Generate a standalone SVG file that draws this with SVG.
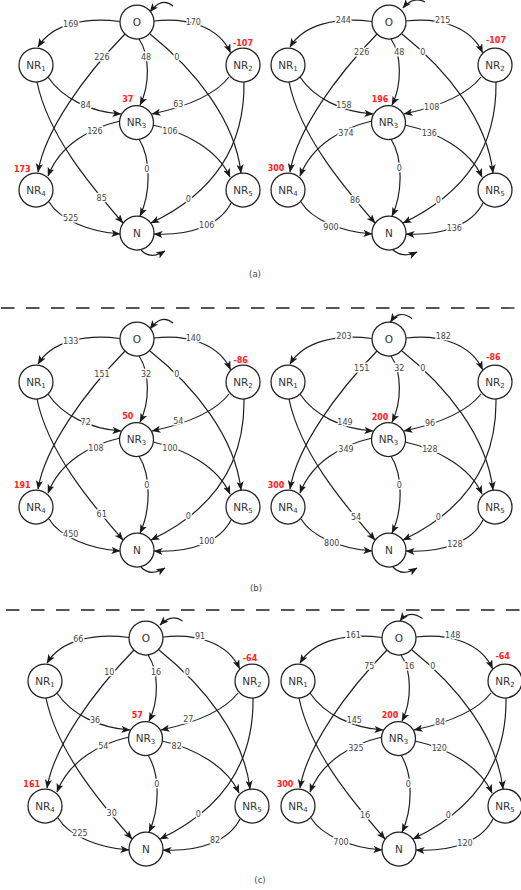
<svg xmlns="http://www.w3.org/2000/svg" width="521" height="890" viewBox="0 0 521 890">
<defs>
<style>
.bg{fill:#fff}
.c path{fill:none;stroke:#1f1f1f;stroke-width:1.2;marker-end:url(#arr)}
.nd circle{fill:#fff;stroke:#1f1f1f;stroke-width:1.25}
.nt{font-family:"DejaVu Sans",sans-serif;font-size:10.5px;fill:#333;text-anchor:middle}
.sb{font-size:7px}
.el{font-family:"DejaVu Sans",sans-serif;font-size:8px;fill:#444;text-anchor:middle;stroke:#fff;stroke-width:3;stroke-linejoin:round;paint-order:stroke}
.rl{font-family:"DejaVu Sans",sans-serif;font-size:8px;font-weight:bold;fill:#f22;text-anchor:middle}
.cap{font-family:"DejaVu Sans",sans-serif;font-size:8.5px;fill:#444;text-anchor:middle}
.dash{stroke:#555;stroke-width:1.8;stroke-dasharray:13.5 11.5}
</style>
<marker id="arr" viewBox="0 0 10 8" refX="9.5" refY="4" markerWidth="9" markerHeight="7.2" markerUnits="userSpaceOnUse" orient="auto"><path d="M0,0 L10,4 L0,8 L2.5,4 z" fill="#1a1a1a"/></marker>
</defs>
<rect class="bg" x="0" y="0" width="521" height="890"/>

<!-- ===== (a) left ===== -->
<g id="a-left" transform="translate(0,0)">
<g id="a-left-connectors" class="c">
<path d="M120,21.5 C85,17 52,24 38,47"/>
<path d="M154,21 C188,17 219,27 230.5,52.5"/>
<path d="M125,34 C85,75 45,130 38,172"/>
<path d="M139,39 C150,55 150,85 140,105"/>
<path d="M150,34 C195,70 235,120 241,173"/>
<path d="M48,77 C62,98 90,112 121,114"/>
<path d="M229,77 C215,95 185,107 152,114"/>
<path d="M37,82 C48,135 90,185 123,223"/>
<path d="M244,82 C245,150 210,195 151,223"/>
<path d="M120,121 C90,128 60,145 48,176"/>
<path d="M153,125 C185,132 218,150 230,177"/>
<path d="M139,139 C152,160 150,195 140,216"/>
<path d="M49,202 C60,220 90,232 120,234"/>
<path d="M231,203 C220,225 190,236 154,234"/>
<path d="M173,6 Q162,-3.6 150,12"/>
<path d="M141,250 Q150,260 165,251"/>
<text class="el" x="70.7" y="26.9">169</text>
<text class="el" x="193.3" y="24.6">170</text>
<text class="el" x="102" y="60.2">226</text>
<text class="el" x="146" y="60.2">48</text>
<text class="el" x="176.7" y="60.2">0</text>
<text class="el" x="85.7" y="107.9">84</text>
<text class="el" x="178.3" y="106.9">63</text>
<text class="el" x="95" y="133.6">126</text>
<text class="el" x="170" y="133.6">106</text>
<text class="el" x="146.7" y="171.9">0</text>
<text class="el" x="101.7" y="201.2">85</text>
<text class="el" x="188.3" y="202.2">0</text>
<text class="el" x="70.7" y="221.2">525</text>
<text class="el" x="206.7" y="227.9">106</text>
</g>
<g id="a-left-O" class="nd"><circle cx="137" cy="22" r="17"/><text class="nt" x="137" y="25.8">O</text></g>
<g id="a-left-NR1" class="nd"><circle cx="36" cy="65" r="17"/><text class="nt" x="36" y="68.8">NR<tspan class="sb" dy="1.8">1</tspan></text></g>
<g id="a-left-NR2" class="nd"><circle cx="243" cy="65" r="17"/><text class="nt" x="243" y="68.8">NR<tspan class="sb" dy="1.8">2</tspan></text><text class="rl" x="243" y="45.6">-107</text></g>
<g id="a-left-NR3" class="nd"><circle cx="136.5" cy="122.5" r="17"/><text class="nt" x="136.5" y="126.3">NR<tspan class="sb" dy="1.8">3</tspan></text><text class="rl" x="127.7" y="102.2">37</text></g>
<g id="a-left-NR4" class="nd"><circle cx="36" cy="190" r="17"/><text class="nt" x="36" y="193.8">NR<tspan class="sb" dy="1.8">4</tspan></text><text class="rl" x="22.3" y="171.9">173</text></g>
<g id="a-left-NR5" class="nd"><circle cx="243" cy="190" r="17"/><text class="nt" x="243" y="193.8">NR<tspan class="sb" dy="1.8">5</tspan></text></g>
<g id="a-left-N" class="nd"><circle cx="137" cy="233" r="17"/><text class="nt" x="137" y="236.8">N</text></g>
</g>

<!-- ===== (a) right ===== -->
<g id="a-right" transform="translate(252,0)">
<g id="a-right-connectors" class="c">
<path d="M120,21.5 C85,17 52,24 38,47"/>
<path d="M154,21 C188,17 219,27 230.5,52.5"/>
<path d="M125,34 C85,75 45,130 38,172"/>
<path d="M139,39 C150,55 150,85 140,105"/>
<path d="M150,34 C195,70 235,120 241,173"/>
<path d="M48,77 C62,98 90,112 121,114"/>
<path d="M229,77 C215,95 185,107 152,114"/>
<path d="M37,82 C48,135 90,185 123,223"/>
<path d="M244,82 C245,150 210,195 151,223"/>
<path d="M120,121 C90,128 60,145 48,176"/>
<path d="M153,125 C185,132 218,150 230,177"/>
<path d="M139,139 C152,160 150,195 140,216"/>
<path d="M49,202 C60,220 90,232 120,234"/>
<path d="M231,203 C220,225 190,236 154,234"/>
<path d="M173,2 Q161,-4 151,8"/>
<path d="M140,249 Q150,259 165,252"/>
<text class="el" x="91.3" y="22.9">244</text>
<text class="el" x="190.7" y="22.9">215</text>
<text class="el" x="109.7" y="54.6">226</text>
<text class="el" x="147.3" y="54.6">48</text>
<text class="el" x="170.7" y="54.6">0</text>
<text class="el" x="92" y="107.9">158</text>
<text class="el" x="179.7" y="109.6">108</text>
<text class="el" x="94" y="136.2">374</text>
<text class="el" x="177.3" y="136.2">136</text>
<text class="el" x="147.3" y="171.2">0</text>
<text class="el" x="103" y="202.9">86</text>
<text class="el" x="186.3" y="202.9">0</text>
<text class="el" x="79" y="229.6">900</text>
<text class="el" x="202.3" y="231.2">136</text>
</g>
<g id="a-right-O" class="nd"><circle cx="137" cy="22" r="17"/><text class="nt" x="137" y="25.8">O</text></g>
<g id="a-right-NR1" class="nd"><circle cx="36" cy="65" r="17"/><text class="nt" x="36" y="68.8">NR<tspan class="sb" dy="1.8">1</tspan></text></g>
<g id="a-right-NR2" class="nd"><circle cx="243" cy="65" r="17"/><text class="nt" x="243" y="68.8">NR<tspan class="sb" dy="1.8">2</tspan></text><text class="rl" x="244" y="42.9">-107</text></g>
<g id="a-right-NR3" class="nd"><circle cx="136.5" cy="122.5" r="17"/><text class="nt" x="136.5" y="126.3">NR<tspan class="sb" dy="1.8">3</tspan></text><text class="rl" x="128" y="102.2">196</text></g>
<g id="a-right-NR4" class="nd"><circle cx="36" cy="190" r="17"/><text class="nt" x="36" y="193.8">NR<tspan class="sb" dy="1.8">4</tspan></text><text class="rl" x="24" y="171.2">300</text></g>
<g id="a-right-NR5" class="nd"><circle cx="243" cy="190" r="17"/><text class="nt" x="243" y="193.8">NR<tspan class="sb" dy="1.8">5</tspan></text></g>
<g id="a-right-N" class="nd"><circle cx="137" cy="233" r="17"/><text class="nt" x="137" y="236.8">N</text></g>
</g>

<text id="cap-a" class="cap" x="255" y="277">(a)</text>
<line id="sep-1" class="dash" x1="1" y1="308" x2="521" y2="308"/>

<!-- ===== (b) left ===== -->
<g id="b-left" transform="translate(0,317)">
<g id="b-left-connectors" class="c">
<path d="M120,21.5 C85,17 52,24 38,47"/>
<path d="M154,21 C188,17 219,27 230.5,52.5"/>
<path d="M125,34 C85,75 45,130 38,172"/>
<path d="M139,39 C150,55 150,85 140,105"/>
<path d="M150,34 C195,70 235,120 241,173"/>
<path d="M48,77 C62,98 90,112 121,114"/>
<path d="M229,77 C215,95 185,107 152,114"/>
<path d="M37,82 C48,135 90,185 123,223"/>
<path d="M244,82 C245,150 210,195 151,223"/>
<path d="M120,121 C90,128 60,145 48,176"/>
<path d="M153,125 C185,132 218,150 230,177"/>
<path d="M139,139 C152,160 150,195 140,216"/>
<path d="M49,202 C60,220 90,232 120,234"/>
<path d="M231,203 C220,225 190,236 154,234"/>
<path d="M173,6 Q162,-3.6 150,12"/>
<path d="M141,250 Q150,260 165,251"/>
<text class="el" x="70.7" y="26.6">133</text>
<text class="el" x="193.3" y="23.6">140</text>
<text class="el" x="102" y="60.2">151</text>
<text class="el" x="146" y="60.2">32</text>
<text class="el" x="176.7" y="60.2">0</text>
<text class="el" x="85.7" y="107.6">72</text>
<text class="el" x="178.3" y="106.9">54</text>
<text class="el" x="96" y="134.2">108</text>
<text class="el" x="170" y="134.2">100</text>
<text class="el" x="146.7" y="170.9">0</text>
<text class="el" x="101.7" y="200.2">61</text>
<text class="el" x="188.3" y="201.6">0</text>
<text class="el" x="70.7" y="220.2">450</text>
<text class="el" x="206.7" y="226.9">100</text>
</g>
<g id="b-left-O" class="nd"><circle cx="137" cy="22" r="17"/><text class="nt" x="137" y="25.8">O</text></g>
<g id="b-left-NR1" class="nd"><circle cx="36" cy="65" r="17"/><text class="nt" x="36" y="68.8">NR<tspan class="sb" dy="1.8">1</tspan></text></g>
<g id="b-left-NR2" class="nd"><circle cx="243" cy="65" r="17"/><text class="nt" x="243" y="68.8">NR<tspan class="sb" dy="1.8">2</tspan></text><text class="rl" x="240.7" y="45.9">-86</text></g>
<g id="b-left-NR3" class="nd"><circle cx="136.5" cy="122.5" r="17"/><text class="nt" x="136.5" y="126.3">NR<tspan class="sb" dy="1.8">3</tspan></text><text class="rl" x="127.7" y="101.9">50</text></g>
<g id="b-left-NR4" class="nd"><circle cx="36" cy="190" r="17"/><text class="nt" x="36" y="193.8">NR<tspan class="sb" dy="1.8">4</tspan></text><text class="rl" x="22.3" y="170.9">191</text></g>
<g id="b-left-NR5" class="nd"><circle cx="243" cy="190" r="17"/><text class="nt" x="243" y="193.8">NR<tspan class="sb" dy="1.8">5</tspan></text></g>
<g id="b-left-N" class="nd"><circle cx="137" cy="233" r="17"/><text class="nt" x="137" y="236.8">N</text></g>
</g>

<!-- ===== (b) right ===== -->
<g id="b-right" transform="translate(252,317)">
<g id="b-right-connectors" class="c">
<path d="M120,21.5 C85,17 52,24 38,47"/>
<path d="M154,21 C188,17 219,27 230.5,52.5"/>
<path d="M125,34 C85,75 45,130 38,172"/>
<path d="M139,39 C150,55 150,85 140,105"/>
<path d="M150,34 C195,70 235,120 241,173"/>
<path d="M48,77 C62,98 90,112 121,114"/>
<path d="M229,77 C215,95 185,107 152,114"/>
<path d="M37,82 C48,135 90,185 123,223"/>
<path d="M244,82 C245,150 210,195 151,223"/>
<path d="M120,121 C90,128 60,145 48,176"/>
<path d="M153,125 C185,132 218,150 230,177"/>
<path d="M139,139 C152,160 150,195 140,216"/>
<path d="M49,202 C60,220 90,232 120,234"/>
<path d="M231,203 C220,225 190,236 154,234"/>
<path d="M160,1.5 Q147,-8 138.5,5"/>
<path d="M141,250 Q150,260 165,251"/>
<text class="el" x="92" y="21.9">203</text>
<text class="el" x="191.3" y="21.9">182</text>
<text class="el" x="109.7" y="53.6">151</text>
<text class="el" x="147.3" y="53.6">32</text>
<text class="el" x="170.7" y="53.6">0</text>
<text class="el" x="93" y="107.6">149</text>
<text class="el" x="178" y="109.2">96</text>
<text class="el" x="94" y="135.2">349</text>
<text class="el" x="178" y="135.2">128</text>
<text class="el" x="147.3" y="170.9">0</text>
<text class="el" x="104" y="202.6">54</text>
<text class="el" x="186.3" y="202.6">0</text>
<text class="el" x="79.7" y="228.6">800</text>
<text class="el" x="203" y="230.2">128</text>
</g>
<g id="b-right-O" class="nd"><circle cx="137" cy="22" r="17"/><text class="nt" x="137" y="25.8">O</text></g>
<g id="b-right-NR1" class="nd"><circle cx="36" cy="65" r="17"/><text class="nt" x="36" y="68.8">NR<tspan class="sb" dy="1.8">1</tspan></text></g>
<g id="b-right-NR2" class="nd"><circle cx="243" cy="65" r="17"/><text class="nt" x="243" y="68.8">NR<tspan class="sb" dy="1.8">2</tspan></text><text class="rl" x="241.3" y="42.6">-86</text></g>
<g id="b-right-NR3" class="nd"><circle cx="136.5" cy="122.5" r="17"/><text class="nt" x="136.5" y="126.3">NR<tspan class="sb" dy="1.8">3</tspan></text><text class="rl" x="128" y="102.6">200</text></g>
<g id="b-right-NR4" class="nd"><circle cx="36" cy="190" r="17"/><text class="nt" x="36" y="193.8">NR<tspan class="sb" dy="1.8">4</tspan></text><text class="rl" x="24" y="170.9">300</text></g>
<g id="b-right-NR5" class="nd"><circle cx="243" cy="190" r="17"/><text class="nt" x="243" y="193.8">NR<tspan class="sb" dy="1.8">5</tspan></text></g>
<g id="b-right-N" class="nd"><circle cx="137" cy="233" r="17"/><text class="nt" x="137" y="236.8">N</text></g>
</g>

<text id="cap-b" class="cap" x="256" y="591">(b)</text>
<line id="sep-2" class="dash" x1="6" y1="610" x2="521" y2="610"/>

<!-- ===== (c) left ===== -->
<g id="c-left" transform="translate(9,616)">
<g id="c-left-connectors" class="c">
<path d="M120,21.5 C85,17 52,24 38,47"/>
<path d="M154,21 C188,17 219,27 230.5,52.5"/>
<path d="M125,34 C85,75 45,130 38,172"/>
<path d="M139,39 C150,55 150,85 140,105"/>
<path d="M150,34 C195,70 235,120 241,173"/>
<path d="M48,77 C62,98 90,112 121,114"/>
<path d="M229,77 C215,95 185,107 152,114"/>
<path d="M37,82 C48,135 90,185 123,223"/>
<path d="M244,82 C245,150 210,195 151,223"/>
<path d="M120,121 C90,128 60,145 48,176"/>
<path d="M153,125 C185,132 218,150 230,177"/>
<path d="M139,139 C152,160 150,195 140,216"/>
<path d="M49,202 C60,220 90,232 120,234"/>
<path d="M231,203 C220,225 190,236 154,234"/>
<path d="M173.5,5 Q163,-3 151,9"/>
<text class="el" x="69.3" y="25.9">66</text>
<text class="el" x="191" y="22.6">91</text>
<text class="el" x="100.3" y="59.2">10</text>
<text class="el" x="147" y="59.2">16</text>
<text class="el" x="178.3" y="59.2">0</text>
<text class="el" x="86" y="106.9">36</text>
<text class="el" x="179.3" y="105.9">27</text>
<text class="el" x="94.3" y="132.6">54</text>
<text class="el" x="167.7" y="132.6">82</text>
<text class="el" x="147.7" y="171.2">0</text>
<text class="el" x="102.7" y="200.2">30</text>
<text class="el" x="189.3" y="201.2">0</text>
<text class="el" x="71" y="220.2">225</text>
<text class="el" x="206" y="226.9">82</text>
</g>
<g id="c-left-O" class="nd"><circle cx="137" cy="22" r="17"/><text class="nt" x="137" y="25.8">O</text></g>
<g id="c-left-NR1" class="nd"><circle cx="36" cy="65" r="17"/><text class="nt" x="36" y="68.8">NR<tspan class="sb" dy="1.8">1</tspan></text></g>
<g id="c-left-NR2" class="nd"><circle cx="243" cy="65" r="17"/><text class="nt" x="243" y="68.8">NR<tspan class="sb" dy="1.8">2</tspan></text><text class="rl" x="241" y="44.6">-64</text></g>
<g id="c-left-NR3" class="nd"><circle cx="136.5" cy="122.5" r="17"/><text class="nt" x="136.5" y="126.3">NR<tspan class="sb" dy="1.8">3</tspan></text><text class="rl" x="128.3" y="101.9">57</text></g>
<g id="c-left-NR4" class="nd"><circle cx="36" cy="190" r="17"/><text class="nt" x="36" y="193.8">NR<tspan class="sb" dy="1.8">4</tspan></text><text class="rl" x="22.7" y="170.9">161</text></g>
<g id="c-left-NR5" class="nd"><circle cx="243" cy="190" r="17"/><text class="nt" x="243" y="193.8">NR<tspan class="sb" dy="1.8">5</tspan></text></g>
<g id="c-left-N" class="nd"><circle cx="137" cy="233" r="17"/><text class="nt" x="137" y="236.8">N</text></g>
</g>

<!-- ===== (c) right ===== -->
<g id="c-right" transform="translate(262,616)">
<g id="c-right-connectors" class="c">
<path d="M120,21.5 C85,17 52,24 38,47"/>
<path d="M154,21 C188,17 219,27 230.5,52.5"/>
<path d="M125,34 C85,75 45,130 38,172"/>
<path d="M139,39 C150,55 150,85 140,105"/>
<path d="M150,34 C195,70 235,120 241,173"/>
<path d="M48,77 C62,98 90,112 121,114"/>
<path d="M229,77 C215,95 185,107 152,114"/>
<path d="M37,82 C48,135 90,185 123,223"/>
<path d="M244,82 C245,150 210,195 151,223"/>
<path d="M120,121 C90,128 60,145 48,176"/>
<path d="M153,125 C185,132 218,150 230,177"/>
<path d="M139,139 C152,160 150,195 140,216"/>
<path d="M49,202 C60,220 90,232 120,234"/>
<path d="M231,203 C220,225 190,236 154,234"/>
<path d="M160.5,2.5 Q147,-7 138,5"/>
<text class="el" x="91.3" y="21.9">161</text>
<text class="el" x="190.7" y="21.9">148</text>
<text class="el" x="107.3" y="52.9">75</text>
<text class="el" x="147.3" y="52.9">16</text>
<text class="el" x="170.7" y="52.9">0</text>
<text class="el" x="92.3" y="106.9">145</text>
<text class="el" x="178" y="108.6">84</text>
<text class="el" x="94" y="135.2">325</text>
<text class="el" x="177.3" y="135.2">120</text>
<text class="el" x="146.3" y="170.9">0</text>
<text class="el" x="103" y="201.9">16</text>
<text class="el" x="186.3" y="201.9">0</text>
<text class="el" x="79" y="228.6">700</text>
<text class="el" x="203" y="230.2">120</text>
</g>
<g id="c-right-O" class="nd"><circle cx="137" cy="22" r="17"/><text class="nt" x="137" y="25.8">O</text></g>
<g id="c-right-NR1" class="nd"><circle cx="36" cy="65" r="17"/><text class="nt" x="36" y="68.8">NR<tspan class="sb" dy="1.8">1</tspan></text></g>
<g id="c-right-NR2" class="nd"><circle cx="243" cy="65" r="17"/><text class="nt" x="243" y="68.8">NR<tspan class="sb" dy="1.8">2</tspan></text><text class="rl" x="240.7" y="42.6">-64</text></g>
<g id="c-right-NR3" class="nd"><circle cx="136.5" cy="122.5" r="17"/><text class="nt" x="136.5" y="126.3">NR<tspan class="sb" dy="1.8">3</tspan></text><text class="rl" x="128" y="101.9">200</text></g>
<g id="c-right-NR4" class="nd"><circle cx="36" cy="190" r="17"/><text class="nt" x="36" y="193.8">NR<tspan class="sb" dy="1.8">4</tspan></text><text class="rl" x="23" y="170.9">300</text></g>
<g id="c-right-NR5" class="nd"><circle cx="243" cy="190" r="17"/><text class="nt" x="243" y="193.8">NR<tspan class="sb" dy="1.8">5</tspan></text></g>
<g id="c-right-N" class="nd"><circle cx="137" cy="233" r="17"/><text class="nt" x="137" y="236.8">N</text></g>
</g>

<text id="cap-c" class="cap" x="260" y="883">(c)</text>
</svg>
